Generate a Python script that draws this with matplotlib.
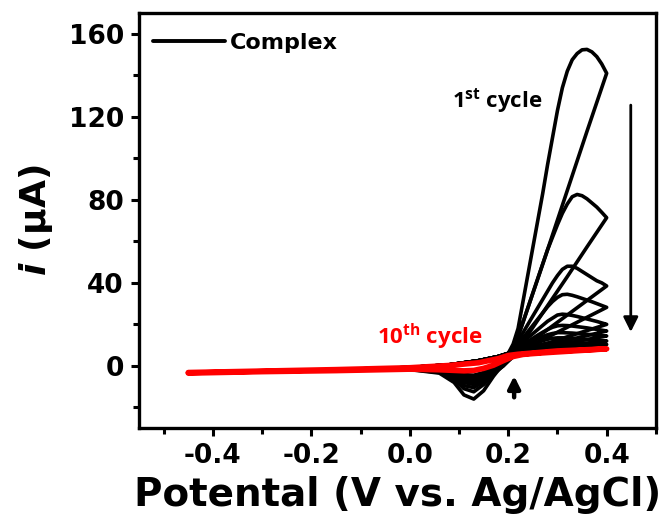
import matplotlib
matplotlib.use("Agg")
import matplotlib.pyplot as plt

# potential grids (V vs. Ag/AgCl)
fwd_low_v = [-0.45, -0.30, -0.15, 0.00, 0.08, 0.14, 0.18]
fwd_high_v = [0.20, 0.21, 0.22, 0.23, 0.24, 0.25, 0.26, 0.27, 0.28, 0.29, 0.30,
              0.31, 0.32, 0.33, 0.34, 0.35, 0.36, 0.37, 0.38, 0.39, 0.40]
rev_v = [0.40, 0.36, 0.32, 0.28, 0.25, 0.23, 0.21, 0.19, 0.17, 0.15, 0.13,
         0.11, 0.09, 0.06, 0.00, -0.15, -0.30, -0.45]

# anodic scan below 0.2 V (same for cycles 1-9, then cycle 10)
fwd_low_black = [-3.2, -2.5, -1.8, -0.8, 0.5, 2.5, 4.5]
fwd_low_red = [-3.2, -2.5, -1.8, -0.9, 0.2, 1.5, 3.5]

# anodic scan 0.20 -> 0.40 V, current in uA
fwd_high = [
    [6, 10.5, 18, 31, 44, 57, 70, 83, 97, 110, 123, 134, 142, 147.5, 150.5, 152.3, 152.5, 151.3, 149, 145.5, 141],
    [6, 9, 14, 21, 28, 35, 42, 49, 56, 62, 68, 73.5, 78, 81.5, 82.6, 82, 80.5, 78.5, 76.5, 74, 71.4],
    [6, 8.5, 12, 16, 20, 24, 28, 32, 36, 40, 43.5, 46.5, 48, 48, 47, 45.5, 44, 42.5, 41, 40, 38.5],
    [6, 8, 10.5, 13.5, 16.5, 19.5, 22.5, 25.5, 28.5, 31, 33, 34.3, 34.5, 34, 33.3, 32.5, 31.7, 30.9, 30, 29.1, 28.2],
    [6, 7.5, 9.5, 11.5, 13.5, 15.5, 17.5, 19.5, 21.5, 23, 24.5, 24.9, 24.7, 24.3, 23.8, 23.2, 22.6, 22, 21.4, 20.7, 20],
    [6, 7.3, 8.8, 10.3, 11.8, 13.3, 14.8, 16.2, 17.5, 18.6, 19.3, 19.5, 19.4, 19.2, 18.9, 18.6, 18.3, 17.9, 17.6, 17.2, 16.8],
    [6, 7, 8.2, 9.4, 10.6, 11.8, 13, 14.1, 15, 15.6, 16, 16, 15.9, 15.8, 15.6, 15.4, 15.2, 15, 14.8, 14.6, 14.4],
    [6, 6.8, 7.7, 8.6, 9.5, 10.4, 11.3, 12.1, 12.8, 13.3, 13.5, 13.5, 13.4, 13.3, 13.1, 12.9, 12.7, 12.6, 12.4, 12.2, 12],
    [6, 6.6, 7.3, 8, 8.7, 9.3, 9.9, 10.5, 10.9, 11.2, 11.4, 11.5, 11.4, 11.3, 11.2, 11.1, 10.9, 10.8, 10.6, 10.5, 10.3],
    [5, 5.3, 5.6, 5.8, 6, 6.2, 6.4, 6.6, 6.8, 7, 7.2, 7.3, 7.4, 7.5, 7.6, 7.7, 7.8, 7.9, 8, 8.1, 8.2],
]

# cathodic scan 0.40 -> -0.45 V
rev_i = [
    [141, 113, 84.5, 56, 35, 21, 8, 1, -5, -12, -16, -14, -8, -3.5, -1.8, -2.3, -2.8, -3.5],
    [71.4, 57.3, 43, 29, 18.5, 11.5, 5, 0, -4, -9, -12.5, -11, -6.5, -3.2, -1.7, -2.3, -2.8, -3.5],
    [38.5, 31.5, 24.5, 17.5, 12.2, 8.7, 4.5, 0, -3.5, -7.5, -10.5, -9.5, -5.5, -3, -1.6, -2.3, -2.8, -3.5],
    [28.2, 23.4, 18.6, 13.8, 10.2, 7.8, 4.5, 0.5, -3, -6.5, -9, -8, -5, -2.8, -1.6, -2.3, -2.8, -3.5],
    [20, 17, 14, 10.9, 8.6, 7.1, 4.5, 1, -2.5, -5.5, -8, -7, -4.5, -2.6, -1.5, -2.3, -2.8, -3.5],
    [16.8, 14.6, 12.3, 10, 8.3, 7, 4.5, 1.2, -2, -5, -7, -6.2, -4, -2.4, -1.5, -2.3, -2.8, -3.5],
    [14.4, 12.7, 11, 9.3, 8, 7, 4.5, 1.5, -1.5, -4.3, -6, -5.5, -3.7, -2.3, -1.5, -2.3, -2.8, -3.5],
    [12, 10.8, 9.7, 8.6, 7.7, 7, 4.8, 1.8, -1.2, -3.8, -5.2, -4.8, -3.4, -2.2, -1.4, -2.3, -2.8, -3.5],
    [10.3, 9.5, 8.7, 8, 7.4, 6.8, 5, 2.2, -0.8, -3.2, -4.5, -4.2, -3.1, -2.1, -1.4, -2.3, -2.8, -3.5],
    [8.2, 7.6, 7, 6.4, 5.9, 5.5, 4.5, 2.5, 0.3, -1.2, -2.2, -2.4, -2.2, -1.9, -1.6, -2.3, -2.8, -3.5],
]

plt.rcParams['font.family'] = ['DejaVu Sans']
plt.rcParams['font.weight'] = 'bold'
plt.rcParams['mathtext.fontset'] = 'custom'
plt.rcParams['mathtext.it'] = 'DejaVu Sans:italic:bold'
plt.rcParams['mathtext.rm'] = 'Open Sans:bold'

fig = plt.figure(figsize=(6.72, 5.24), dpi=100)
ax = fig.add_axes([0.207, 0.183, 0.769, 0.792])

v_all = fwd_low_v + fwd_high_v + rev_v
for k in range(10):
    low = fwd_low_red if k == 9 else fwd_low_black
    i_all = low + fwd_high[k] + rev_i[k]
    if k == 9:
        ax.plot(v_all, i_all, color='#ff0000', lw=4.0, solid_joinstyle='round',
                solid_capstyle='round', zorder=3)
    else:
        ax.plot(v_all, i_all, color='k', lw=2.6, solid_joinstyle='round',
                solid_capstyle='round', zorder=2,
                label='Complex' if k == 0 else None)

leg = ax.legend(loc='center left', bbox_to_anchor=(0.027, 0.928), frameon=False,
                fontsize=16, handlelength=3.25, handletextpad=0.22,
                borderaxespad=0, borderpad=0)
for line in leg.get_lines():
    line.set_linewidth(2.8)

ax.text(0.086, 128, r'1$^{\rm st}$ cycle', fontsize=16, family='Open Sans',
        fontweight='bold', va='center', ha='left')
ax.text(-0.067, 13.8, r'10$^{\rm th}$ cycle', fontsize=16, family='Open Sans',
        fontweight='bold', va='center', ha='left', color='#ff0000')

ax.annotate('', xy=(0.449, 15), xytext=(0.449, 127),
            arrowprops=dict(arrowstyle='-|>', lw=2.0, color='k', mutation_scale=22))
ax.annotate('', xy=(0.212, -3.5), xytext=(0.212, -16.5),
            arrowprops=dict(arrowstyle='-|>', lw=3.2, color='k', mutation_scale=18))

ax.set_xlim(-0.55, 0.5)
ax.set_ylim(-30, 170)
ax.set_xticks([-0.4, -0.2, 0.0, 0.2, 0.4])
ax.set_xticks([-0.5, -0.3, -0.1, 0.1, 0.3, 0.5], minor=True)
ax.set_yticks([0, 40, 80, 120, 160])
ax.set_yticks([-20, 20, 60, 100, 140], minor=True)
ax.set_xticklabels(['-0.4', '-0.2', '0.0', '0.2', '0.4'])

for s in ax.spines.values():
    s.set_linewidth(2.4)
ax.tick_params(which='major', direction='out', length=6, width=2.2,
               labelsize=19, pad=5)
ax.tick_params(which='minor', direction='out', length=4, width=2.2)

ax.set_xlabel('Potental (V vs. Ag/AgCl)', fontsize=28, fontweight='bold', labelpad=5)
ax.set_ylabel('$i$ (μA)', fontsize=26, fontweight='bold', labelpad=10)

fig.savefig('out.png', dpi=100)
